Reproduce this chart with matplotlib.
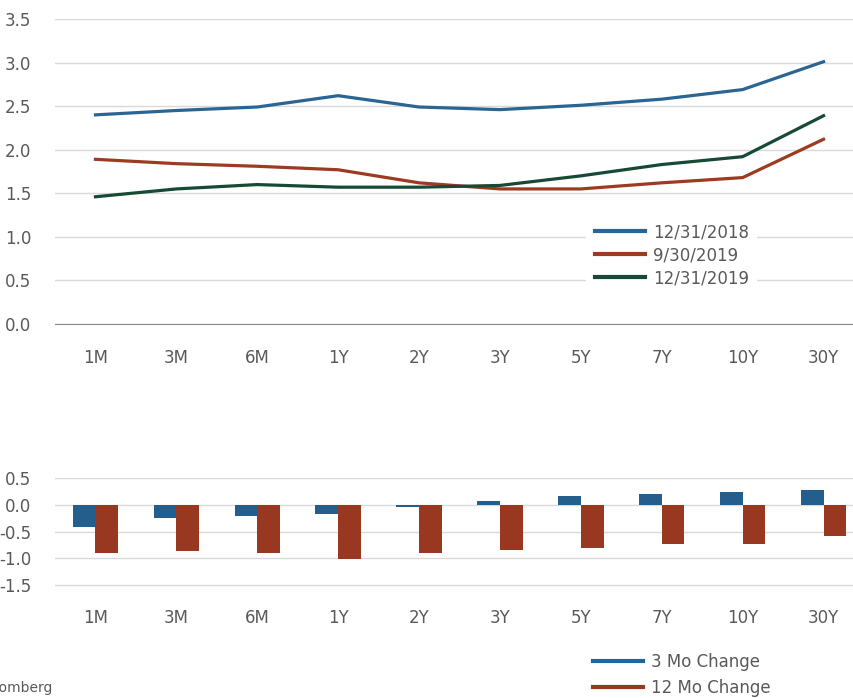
import numpy as np
import matplotlib.pyplot as plt
from matplotlib import rcParams
from matplotlib.lines import Line2D

rcParams['font.family'] = 'DejaVu Sans'

# Treasury curve tenors and yields
tenors = ["1M", "3M", "6M", "1Y", "2Y", "3Y", "5Y", "7Y", "10Y", "30Y"]
y_2018_12 = [2.40, 2.45, 2.49, 2.62, 2.49, 2.46, 2.51, 2.58, 2.69, 3.01]
y_2019_09 = [1.89, 1.84, 1.81, 1.77, 1.62, 1.55, 1.55, 1.62, 1.68, 2.12]
y_2019_12 = [1.46, 1.55, 1.60, 1.57, 1.57, 1.59, 1.70, 1.83, 1.92, 2.39]

# Changes
chg_3mo = [-0.42, -0.24, -0.21, -0.18, -0.04, 0.07, 0.17, 0.21, 0.24, 0.28]
chg_12mo = [-0.91, -0.87, -0.91, -1.01, -0.91, -0.84, -0.80, -0.74, -0.74, -0.59]

text_col = "#595959"
grid_col = "#d9d9d9"
W, H = 854, 698

fig = plt.figure(figsize=(W / 100, H / 100), dpi=100)

x = np.arange(len(tenors))
left = 55 / W
width = 809 / W

# Top: yield curves
ax1 = fig.add_axes([left, 1 - 324 / H, width, (324 - 19) / H])
ax1.plot(x, y_2018_12, color="#2b6593", lw=2.3, label="12/31/2018")
ax1.plot(x, y_2019_09, color="#9c3a22", lw=2.3, label="9/30/2019")
ax1.plot(x, y_2019_12, color="#174a34", lw=2.3, label="12/31/2019")
ax1.set_xlim(-0.5, len(tenors) - 0.5)
ax1.set_ylim(0, 3.5)
ax1.set_yticks(np.arange(0, 3.51, 0.5))
ax1.set_yticklabels([f"{v:.1f}" for v in np.arange(0, 3.51, 0.5)])
ax1.set_xticks(x)
ax1.set_xticklabels(tenors)
ax1.grid(axis="y", color=grid_col, lw=1)
ax1.set_axisbelow(True)
for s in ["top", "right", "left"]:
    ax1.spines[s].set_visible(False)
ax1.spines["bottom"].set_color("#8c8c8c")
ax1.tick_params(length=0, labelsize=12, colors=text_col, pad=18)
ax1.tick_params(axis="y", pad=17)
leg1 = ax1.legend(loc="center left", bbox_to_anchor=(578 / W, 1 - 255 / H),
                  bbox_transform=fig.transFigure, frameon=True, fontsize=12,
                  handlelength=3.0, labelspacing=0.3, borderpad=0.5,
                  handletextpad=0.5, fancybox=False)
leg1.get_frame().set_edgecolor("none")
leg1.get_frame().set_facecolor("white")
leg1.get_frame().set_alpha(1)
for t in leg1.get_texts():
    t.set_color(text_col)
for h in leg1.get_lines():
    h.set_linewidth(3)

# Bottom: changes
ax2 = fig.add_axes([left, 1 - 587 / H, width, (587 - 478) / H])
bw = 0.28
ax2.bar(x - bw / 2, chg_3mo, width=bw, color="#245e8c", label="3 Mo Change")
ax2.bar(x + bw / 2, chg_12mo, width=bw, color="#983821", label="12 Mo Change")
ax2.set_xlim(-0.5, len(tenors) - 0.5)
ax2.set_ylim(-1.537, 0.5)
ax2.set_yticks([0.5, 0.0, -0.5, -1.0, -1.5])
ax2.set_yticklabels(["0.5", "0.0", "-0.5", "-1.0", "-1.5"])
ax2.set_xticks(x)
ax2.set_xticklabels(tenors)
ax2.grid(axis="y", color=grid_col, lw=1)
ax2.set_axisbelow(True)
for s in ["top", "right", "left", "bottom"]:
    ax2.spines[s].set_visible(False)
ax2.tick_params(length=0, labelsize=12, colors=text_col, pad=16)
ax2.tick_params(axis="y", pad=17)

handles = [Line2D([], [], color="#1f65a0", lw=3), Line2D([], [], color="#983821", lw=3)]
leg2 = fig.legend(handles, ["3 Mo Change", "12 Mo Change"], loc="center left",
                  bbox_to_anchor=(578 / W, 1 - 675 / H), frameon=False, fontsize=12,
                  handlelength=3.0, labelspacing=0.45, handletextpad=0.5)
for t in leg2.get_texts():
    t.set_color(text_col)

# Source note, cut off at the left edge as in the original
fig.text(52 / W, 1 - 688 / H, "Source: Bloomberg", ha="right", va="center",
         fontsize=10, color=text_col)

fig.savefig("out.png", dpi=100)
